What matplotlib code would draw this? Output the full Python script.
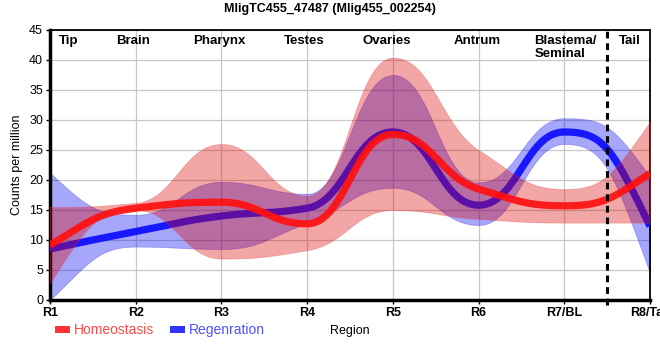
import numpy as np
import matplotlib
matplotlib.use("Agg")
import matplotlib.pyplot as plt
from matplotlib.patches import Rectangle

plt.rcParams['font.family'] = ['Liberation Sans', 'DejaVu Sans']

# ---------------- data ----------------
regions = ['R1', 'R2', 'R3', 'R4', 'R5', 'R6', 'R7/BL', 'R8/Tail']
homeo_mean = [9.1, 15.3, 16.3, 12.7, 27.6, 18.5, 15.7, 21.1]
homeo_upper = [15.5, 16.2, 26.0, 17.4, 40.4, 25.0, 18.5, 29.7]
homeo_lower = [2.8, 15.0, 6.9, 8.3, 15.0, 13.5, 12.9, 12.9]
regen_mean = [8.5, 11.4, 14.0, 15.3, 28.0, 15.8, 28.0, 12.3]
regen_upper = [21.2, 14.2, 19.7, 17.7, 37.5, 19.6, 30.3, 20.5]
regen_lower = [0.0, 8.9, 8.5, 12.8, 18.7, 12.5, 26.0, 4.5]
tissues = ['Tip', 'Brain', 'Pharynx', 'Testes', 'Ovaries', 'Antrum', 'Blastema/\nSeminal', 'Tail']
series_names = ['Homeostasis', 'Regenration']
title = 'MligTC455_47487 (Mlig455_002254)'

# layout-only positions for the tissue labels (in category units)
tissue_pos = [0.22, 0.97, 1.98, 2.96, 3.93, 4.98, 5.65, 6.77]
tissue_ha = ['center'] * 6 + ['left', 'center']


def slopes(x, y):
    x = np.asarray(x, float)
    y = np.asarray(y, float)
    h = np.diff(x)
    delta = np.diff(y) / h
    n = len(x)
    d = np.zeros(n)
    for k in range(1, n - 1):
        if delta[k - 1] * delta[k] <= 0:
            d[k] = 0.0
        else:
            w1 = 2 * h[k] + h[k - 1]
            w2 = h[k] + 2 * h[k - 1]
            d[k] = (w1 + w2) / (w1 / delta[k - 1] + w2 / delta[k])

    def end(h0, h1, d0, d1):
        v = ((2 * h0 + h1) * d0 - h0 * d1) / (h0 + h1)
        if np.sign(v) != np.sign(d0):
            v = 0.0
        elif np.sign(d0) != np.sign(d1) and abs(v) > abs(3 * d0):
            v = 3 * d0
        return v

    d[0] = end(h[0], h[1], delta[0], delta[1])
    d[-1] = end(h[-1], h[-2], delta[-1], delta[-2])
    return d


def smooth(x, y, xs, c=0.45):
    """Bezier smoothing with horizontally offset control points."""
    x = np.asarray(x, float)
    y = np.asarray(y, float)
    d = slopes(x, y)
    t = np.linspace(0, 1, 200)
    bx, by = [], []
    for k in range(len(x) - 1):
        h = x[k + 1] - x[k]
        p0 = (x[k], y[k])
        p1 = (x[k] + c * h, y[k] + c * h * d[k])
        p2 = (x[k + 1] - c * h, y[k + 1] - c * h * d[k + 1])
        p3 = (x[k + 1], y[k + 1])
        b0 = (1 - t) ** 3
        b1 = 3 * t * (1 - t) ** 2
        b2 = 3 * t ** 2 * (1 - t)
        b3 = t ** 3
        bx.append(b0 * p0[0] + b1 * p1[0] + b2 * p2[0] + b3 * p3[0])
        by.append(b0 * p0[1] + b1 * p1[1] + b2 * p2[1] + b3 * p3[1])
    bx = np.concatenate(bx)
    by = np.concatenate(by)
    return np.interp(xs, bx, by)


xi = np.arange(len(regions))
xs = np.linspace(0, len(regions) - 1, 1200)

fig = plt.figure(figsize=(6.6, 3.6), dpi=100)
ax = fig.add_axes([50 / 660, 60 / 360, 600 / 660, 270 / 360])

red = '#ff1010'
blue = '#1010ff'

# blue band + line first, red band + line on top
ax.fill_between(xs, smooth(xi, regen_lower, xs), smooth(xi, regen_upper, xs),
                facecolor=(0.0, 0.0, 0.95), alpha=0.35, edgecolor=(0.2, 0.2, 0.9),
                linewidth=0.6, zorder=2)
ax.plot(xs, smooth(xi, regen_mean, xs), color=blue, lw=5.2, alpha=0.95,
        solid_capstyle='butt', zorder=3)
ax.fill_between(xs, smooth(xi, homeo_lower, xs), smooth(xi, homeo_upper, xs),
                facecolor=(0.86, 0.0, 0.0), alpha=0.35, edgecolor=(0.9, 0.3, 0.3),
                linewidth=0.6, zorder=4)
ax.plot(xs, smooth(xi, homeo_mean, xs), color=red, lw=5.2, alpha=0.92,
        solid_capstyle='butt', zorder=5)

# separator between body and tail
ax.axvline(6.5, ymin=-0.02, ymax=1, color='black', lw=2.2, ls=(0, (2.2, 1.6)),
           zorder=6, clip_on=False)

ax.set_xlim(0, len(regions) - 1)
ax.set_ylim(0, 45)
ax.set_xticks(xi)
ax.set_xticklabels(regions, fontsize=9, fontweight='bold')
ax.set_yticks(np.arange(0, 46, 5))
ax.tick_params(axis='y', labelsize=9, length=3, width=1, pad=2)
ax.tick_params(axis='x', length=3, width=1, pad=2)
ax.grid(True, color='#c8c8c8', lw=0.9, zorder=0)
ax.set_axisbelow(True)

for s in ['left', 'bottom']:
    ax.spines[s].set_linewidth(2.5)
for s in ['top', 'right']:
    ax.spines[s].set_linewidth(1.3)

for lbl, xp, ha in zip(tissues, tissue_pos, tissue_ha):
    ax.text(xp, 44.1, lbl, ha=ha, va='top', fontsize=9.5, fontweight='bold',
            linespacing=1.1, zorder=7)

ax.set_ylabel('Counts per million', fontsize=9, labelpad=4)
fig.text(350 / 660, 1 - 331 / 360, 'Region', ha='center', va='center', fontsize=9)
fig.text(330 / 660, 1 - 9 / 360, title, ha='center', va='center',
         fontsize=9, fontweight='bold')

# legend
fig.patches.append(Rectangle((55 / 660, 1 - 333 / 360), 15 / 660, 7 / 360,
                             transform=fig.transFigure, facecolor='#ff3333',
                             edgecolor='none'))
fig.text(74 / 660, 1 - 330 / 360, series_names[0], ha='left', va='center',
         fontsize=10, color='#ff4848')
fig.patches.append(Rectangle((170 / 660, 1 - 333 / 360), 15 / 660, 7 / 360,
                             transform=fig.transFigure, facecolor='#3333ff',
                             edgecolor='none'))
fig.text(189 / 660, 1 - 330 / 360, series_names[1], ha='left', va='center',
         fontsize=10, color='#5050ff')

fig.savefig('out.png', dpi=100)
